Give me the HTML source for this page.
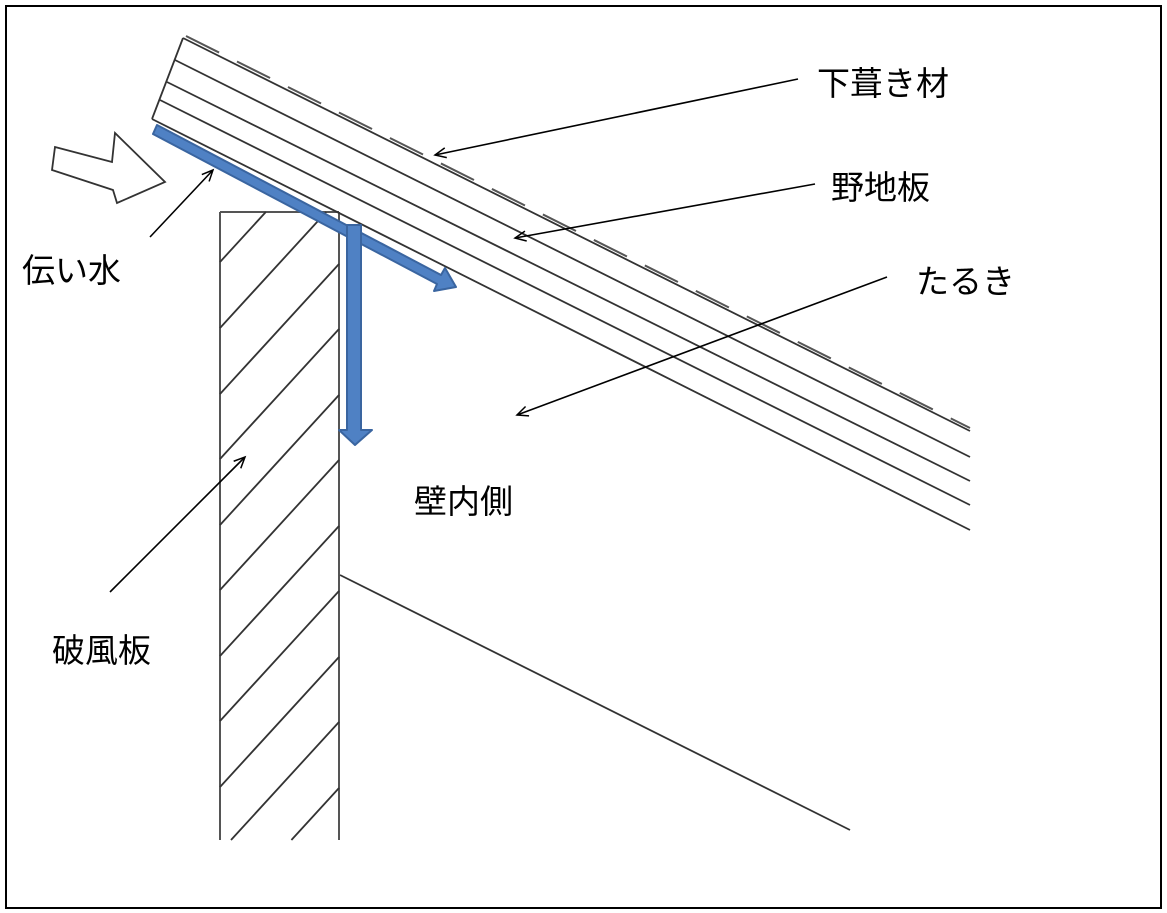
<!DOCTYPE html>
<html><head><meta charset="utf-8"><style>
html,body{margin:0;padding:0;background:#fff;width:1167px;height:913px;overflow:hidden}
svg{display:block}
text{font-family:"Liberation Sans","Noto Sans CJK JP",sans-serif;font-size:33px;fill:#000}
</style></head><body>
<svg width="1167" height="913" viewBox="0 0 1167 913" xmlns="http://www.w3.org/2000/svg">
<defs>
<marker id="a" markerWidth="14" markerHeight="12" refX="12" refY="6" orient="auto" markerUnits="userSpaceOnUse">
<path d="M1,1 L12,6 L1,11" fill="none" stroke="#000" stroke-width="1.5"/></marker>
</defs>
<rect x="6" y="6" width="1155" height="902" fill="none" stroke="#000" stroke-width="2"/>
<g stroke="#555" stroke-width="2" fill="none">
<line x1="220" y1="212" x2="220" y2="840"/>
<line x1="339" y1="212" x2="339" y2="840"/>
<line x1="220" y1="212" x2="339" y2="212"/>
</g>
<g stroke="#333" stroke-width="1.8">
<line x1="220" y1="262" x2="265.8" y2="212"/>
<line x1="220" y1="328" x2="326.2" y2="212"/>
<line x1="220" y1="394" x2="339" y2="264"/>
<line x1="220" y1="459" x2="339" y2="329"/>
<line x1="220" y1="525" x2="339" y2="395"/>
<line x1="220" y1="590" x2="339" y2="460"/>
<line x1="220" y1="656" x2="339" y2="526"/>
<line x1="220" y1="721" x2="339" y2="591"/>
<line x1="220" y1="787" x2="339" y2="657"/>
<line x1="231" y1="840" x2="339" y2="722"/>
<line x1="291.4" y1="840" x2="339" y2="788"/>
</g>
<line x1="340" y1="575" x2="850" y2="830" stroke="#333" stroke-width="1.8"/>
<g stroke="#333" stroke-width="1.8" fill="none">
<line x1="183" y1="38" x2="970" y2="431"/>
<line x1="175" y1="60" x2="970" y2="457"/>
<line x1="167" y1="82" x2="970" y2="481"/>
<line x1="160" y1="100" x2="970" y2="505"/>
<line x1="152" y1="119" x2="970" y2="530"/>
<line x1="183" y1="38" x2="152" y2="119"/>
</g>
<line x1="186" y1="36" x2="970" y2="428" stroke="#555" stroke-width="2" stroke-dasharray="37 20"/>
<polygon points="55,147 112,162 115,133 165,182 117,203 113,190 52,170" fill="#fff" stroke="#333" stroke-width="1.8"/>
<g fill="#4f81c4" stroke="#3a65a0" stroke-width="2" stroke-linejoin="round">
<polygon points="157,125 441,275 445,268 456,287 434,291 437,284 153,134"/>
<polygon points="347,225 361,225 361,430 372,430 355,445 339,430 347,430"/>
</g>
<g stroke="#000" stroke-width="1.6" marker-end="url(#a)">
<line x1="798" y1="79" x2="435" y2="155"/>
<line x1="815" y1="184" x2="515" y2="238"/>
<line x1="887" y1="277" x2="517" y2="415"/>
<line x1="150" y1="237" x2="213" y2="170"/>
<line x1="110" y1="592" x2="245" y2="457"/>
</g>
<text x="817" y="95">下葺き材</text>
<text x="831" y="199">野地板</text>
<text x="916" y="293">たるき</text>
<text x="22" y="282">伝い水</text>
<text x="414" y="513">壁内側</text>
<text x="52" y="662">破風板</text>
</svg>
</body></html>
